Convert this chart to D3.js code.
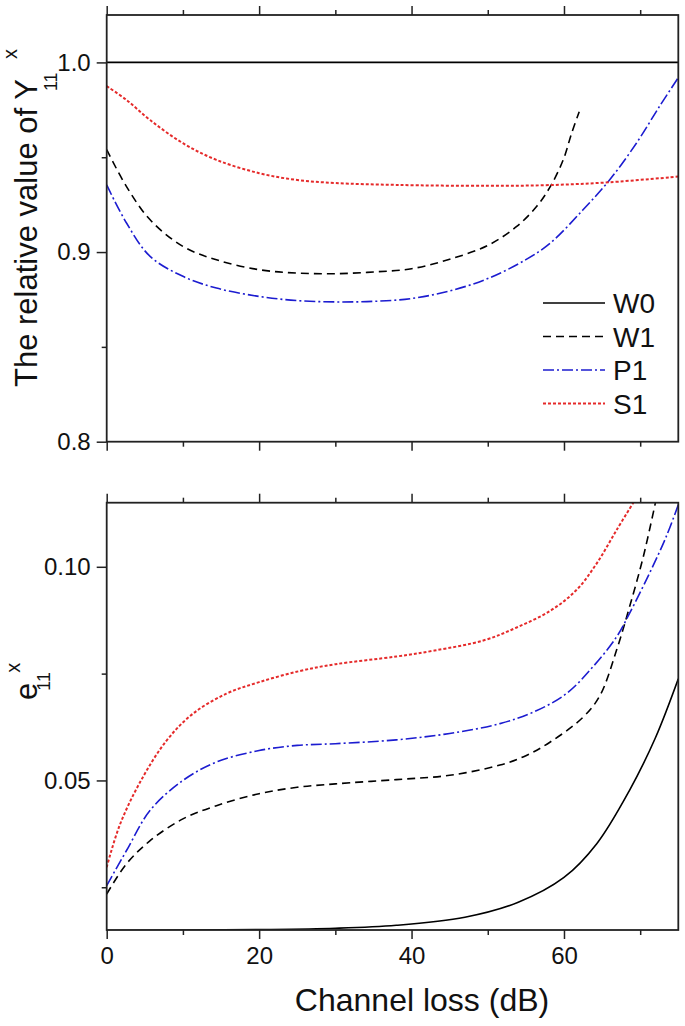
<!DOCTYPE html>
<html>
<head>
<meta charset="utf-8">
<script src="https://d3js.org/d3.v7.min.js"></script>
<style>
  body { margin: 0; background: #fff; }
  svg { display: block; }
  text { font-family: "Liberation Sans", Arial, sans-serif; fill: #111; }
</style>
</head>
<body>
<div id="chart"></div>
<script>
// channel loss values (dB) and curve values
var xDomain = [0, 75];
var xMajorTicks = [0, 20, 40, 60];
var xMinorTicks = [10, 30, 50, 70];

// upper panel: relative value of Y11^x
var topYDomain = [0.8, 1.025];
var topYMajor = [0.8, 0.9, 1.0];
var topYMinor = [0.85, 0.95];

var topW0x = [0, 75];
var topW0y = [1.0, 1.0];
var topW1x = [0, 2.6, 5.7, 10, 14.4, 20, 25, 30, 35, 40, 45, 50, 53.8, 56.4, 58.2, 59.9, 61, 62];
var topW1y = [0.954, 0.9345, 0.917, 0.903, 0.8959, 0.8907, 0.8889, 0.8886, 0.8895, 0.8912, 0.8962, 0.9035, 0.9135, 0.924, 0.9345, 0.9486, 0.9626, 0.974];
var topP1x = [0, 2.6, 5.7, 10, 14.4, 20, 25, 30, 35, 40, 45, 50, 55, 58.2, 62.5, 66, 69.5, 72.5, 75];
var topP1y = [0.9354, 0.9153, 0.8977, 0.8872, 0.881, 0.8766, 0.8744, 0.8737, 0.874, 0.8755, 0.8795, 0.886, 0.896, 0.9047, 0.9223, 0.9381, 0.9574, 0.9766, 0.992];
var topS1x = [0, 2.6, 5.7, 10, 14.4, 20, 25, 30, 38, 50, 58, 66, 75];
var topS1y = [0.9875, 0.9802, 0.9696, 0.9574, 0.9486, 0.9416, 0.938, 0.9364, 0.9354, 0.9349, 0.9353, 0.9368, 0.9398];

// lower panel: e11^x
var botYDomain = [0.015, 0.115];
var botYMajor = [0.05, 0.10];
var botYMinor = [0.025, 0.075];

var botW0x = [0, 20, 30, 38, 47, 54, 60, 64.3, 68.6, 72, 75];
var botW0y = [0.0149, 0.0151, 0.0154, 0.0161, 0.018, 0.0215, 0.0273, 0.0352, 0.0477, 0.06, 0.0738];
var botW1x = [0, 2.6, 5.7, 10, 14.4, 20, 25, 30, 38, 45, 51.6, 55, 58.2, 62.5, 64.7, 66.9, 68.6, 70.4, 72];
var botW1y = [0.0234, 0.0305, 0.0359, 0.041, 0.0441, 0.0469, 0.0484, 0.0492, 0.0502, 0.0512, 0.0536, 0.0558, 0.059, 0.0648, 0.0698, 0.0805, 0.0906, 0.1023, 0.115];
var botP1x = [0, 2.6, 5.7, 10, 14.4, 20, 25, 30, 38, 45, 51.6, 56, 60.3, 63.8, 66.9, 68.6, 71.2, 73.4, 75];
var botP1y = [0.0254, 0.0336, 0.043, 0.05, 0.0543, 0.057, 0.0582, 0.0586, 0.0595, 0.061, 0.0633, 0.066, 0.0703, 0.0766, 0.0836, 0.0891, 0.0984, 0.107, 0.1145];
var botS1x = [0, 1.7, 4.35, 7.8, 11.3, 15.7, 20, 25.3, 30, 38, 43, 49.5, 53.8, 58.2, 61.6, 64.3, 66.9, 69.1];
var botS1y = [0.0297, 0.0395, 0.0495, 0.0592, 0.0656, 0.0703, 0.073, 0.0756, 0.0772, 0.079, 0.0804, 0.0828, 0.0858, 0.0897, 0.0945, 0.1008, 0.1086, 0.115];

var seriesNames = ["W0", "W1", "P1", "S1"];

var styles = {
    W0: { color: "#000000", dash: null, width: 1.6 },
    W1: { color: "#000000", dash: "8,5", width: 1.6 },
    P1: { color: "#1c1cd0", dash: "11,3,2,3", width: 1.6 },
    S1: { color: "#e52a2a", dash: "3,2", width: 2 }
};

var W = 685, H = 1026;
var left = 106.7, right = 678.3;
var topPanel = { top: 15, bottom: 441.7 };
var botPanel = { top: 502.7, bottom: 930 };

var svg = d3.select("#chart").append("svg")
    .attr("width", W)
    .attr("height", H);

var x = d3.scaleLinear().domain(xDomain).range([left, right]);

function zip(xs, ys) {
    return xs.map(function (v, i) { return [v, ys[i]]; });
}

function drawPanel(id, panel, yDomain, yMajor, yMinor, fmt, showXLabels, data) {
    var y = d3.scaleLinear().domain(yDomain).range([panel.bottom, panel.top]);
    var g = svg.append("g");

    svg.append("clipPath").attr("id", id)
        .append("rect")
        .attr("x", left).attr("y", panel.top)
        .attr("width", right - left).attr("height", panel.bottom - panel.top);

    var line = d3.line()
        .x(function (d) { return x(d[0]); })
        .y(function (d) { return y(d[1]); })
        .curve(d3.curveCatmullRom.alpha(0.5));

    var lines = g.append("g").attr("clip-path", "url(#" + id + ")");
    seriesNames.forEach(function (name) {
        var s = styles[name];
        lines.append("path")
            .attr("d", line(data[name]))
            .attr("fill", "none")
            .attr("stroke", s.color)
            .attr("stroke-width", s.width)
            .attr("stroke-dasharray", s.dash);
    });

    // axes: major + minor ticks, outward
    function addAxis(axis, transform, labels) {
        var a = g.append("g").attr("transform", transform).call(axis);
        a.select(".domain").remove();
        a.selectAll(".tick line").attr("stroke", "#222").attr("stroke-width", 1.5);
        a.selectAll("text").style("font-size", "24px").attr("fill", "#111");
        if (!labels) a.selectAll("text").remove();
        return a;
    }

    addAxis(d3.axisBottom(x).tickValues(xMajorTicks).tickSize(9).tickPadding(8).tickFormat(d3.format("d")),
        "translate(0," + panel.bottom + ")", showXLabels);
    addAxis(d3.axisBottom(x).tickValues(xMinorTicks).tickSize(5), "translate(0," + panel.bottom + ")", false);
    addAxis(d3.axisTop(x).tickValues(xMajorTicks).tickSize(9), "translate(0," + panel.top + ")", false);
    addAxis(d3.axisTop(x).tickValues(xMinorTicks).tickSize(5), "translate(0," + panel.top + ")", false);
    addAxis(d3.axisLeft(y).tickValues(yMajor).tickSize(10).tickPadding(6).tickFormat(d3.format(fmt)),
        "translate(" + left + ",0)", true);
    addAxis(d3.axisLeft(y).tickValues(yMinor).tickSize(5), "translate(" + left + ",0)", false);

    g.append("rect")
        .attr("x", left).attr("y", panel.top)
        .attr("width", right - left).attr("height", panel.bottom - panel.top)
        .attr("fill", "none")
        .attr("stroke", "#222")
        .attr("stroke-width", 1.8);

    return y;
}

drawPanel("clipTop", topPanel, topYDomain, topYMajor, topYMinor, ".1f", false, {
    W0: zip(topW0x, topW0y),
    W1: zip(topW1x, topW1y),
    P1: zip(topP1x, topP1y),
    S1: zip(topS1x, topS1y)
});

drawPanel("clipBot", botPanel, botYDomain, botYMajor, botYMinor, ".2f", true, {
    W0: zip(botW0x, botW0y),
    W1: zip(botW1x, botW1y),
    P1: zip(botP1x, botP1y),
    S1: zip(botS1x, botS1y)
});

// legend in the upper panel
var legend = svg.append("g").attr("transform", "translate(543,303)");
seriesNames.forEach(function (name, i) {
    var s = styles[name];
    var row = legend.append("g").attr("transform", "translate(0," + (i * 33.5) + ")");
    row.append("line")
        .attr("x1", 0).attr("x2", 62)
        .attr("stroke", s.color)
        .attr("stroke-width", s.width)
        .attr("stroke-dasharray", s.dash);
    row.append("text")
        .attr("x", 70)
        .attr("dy", "0.36em")
        .style("font-size", "28px")
        .text(name);
});

// rotated y titles with sub/superscripts
function yTitle(main, sub, sup, base, startY, subShift, supShift, subOffset, supOffset) {
    var g = svg.append("g").attr("transform", "translate(" + base + "," + startY + ") rotate(-90)");
    var t = g.append("text").style("font-size", "31px").text(main);
    var L = t.node().getComputedTextLength();
    g.append("text").attr("x", L + subOffset).attr("y", subShift)
        .style("font-size", "18px").text(sub);
    g.append("text").attr("x", L + supOffset).attr("y", -supShift)
        .style("font-size", "20px").text(sup);
}

yTitle("The relative value of Y", "11", "x", 37, 387, 20, 20, -12, 20);
yTitle("e", "11", "x", 37, 700, 13, 17, -8, 10);

// x title
svg.append("text")
    .attr("x", 422)
    .attr("y", 1011)
    .attr("text-anchor", "middle")
    .style("font-size", "32px")
    .text("Channel loss (dB)");
</script>
</body>
</html>
